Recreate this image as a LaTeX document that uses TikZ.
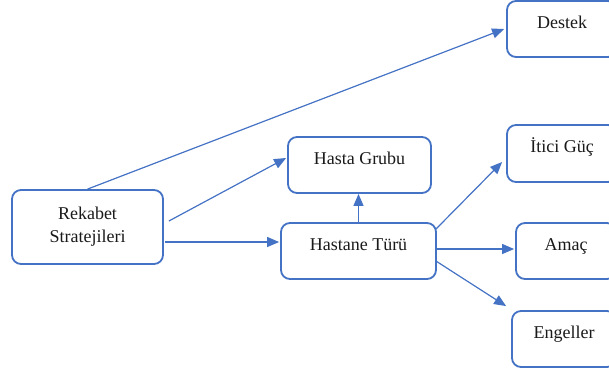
\documentclass[tikz,border=0pt]{standalone}
\usepackage{fontspec}
\setmainfont{Liberation Serif}
\usetikzlibrary{arrows.meta,calc}
\definecolor{boxblue}{HTML}{4472C4}
\definecolor{txt}{HTML}{1A1A1A}
\tikzset{
  box/.style={draw=boxblue, line width=1.8pt, rounded corners=9pt, fill=white,
    text=txt, font=\fontsize{18}{23}\selectfont, inner sep=0pt,
    minimum height=56pt, text height=12pt, text depth=14pt},
  box2/.style={draw=boxblue, line width=1.8pt, rounded corners=9pt, fill=white,
    text=txt, font=\fontsize{18}{23}\selectfont, inner sep=0pt, align=center},
  conn/.style={draw=boxblue, line width=1.2pt, -{Triangle[length=12pt,width=10pt]}}
}
\begin{document}
\begin{tikzpicture}[x=1pt,y=-1pt]
\useasboundingbox (0,0) rectangle (609,373);
\node[box2, minimum width=151pt, minimum height=74pt] (rek) at (87.5,227) {Rekabet\\Stratejileri};
\node[box, minimum width=143pt] (hg) at (359.5,165) {Hasta Grubu};
\node[box, minimum width=155pt] (ht) at (358.5,251) {Hastane Türü};
\node[box, minimum width=110pt] (dst) at (562,29) {Destek};
\node[box, minimum width=110pt, minimum height=57pt] (itc) at (562,153.5) {İtici Güç};
\node[box, minimum width=100pt] (amc) at (566,251) {Amaç};
\node[box, minimum width=104pt] (eng) at (564,339) {Engeller};

\draw[conn] (rek.north) -- ($(dst.west)+(-2,0)$);
\draw[conn] ($(rek.east)+(5,-6)$) -- ($(hg.west)+(-1,-7)$);
\draw[conn] ($(rek.east)+(1,15)$) -- ($(ht.west)+(-1,-9)$);
\draw[conn] (ht.north) -- (ht.north |- hg.south);
\draw[conn] ($(ht.north east)+(-1,7)$) -- ($(itc.west)+(-4,8.5)$);
\draw[conn] ($(ht.east)+(0,-2)$) -- ($(amc.west)+(-1,-2)$);
\draw[conn] ($(ht.east)+(-1,10)$) -- ($(eng.north west)+(-5,-4)$);
\end{tikzpicture}
\end{document}
